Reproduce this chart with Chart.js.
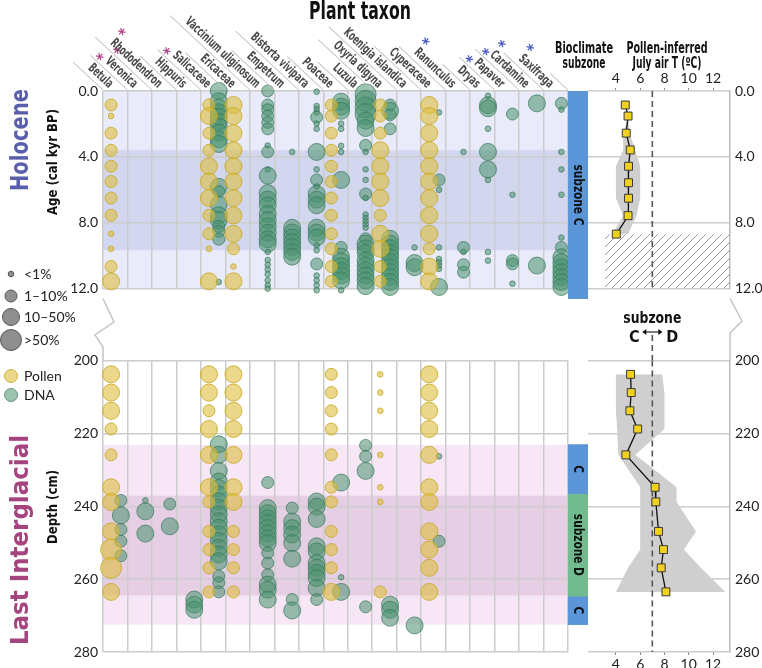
<!DOCTYPE html>
<html>
<head>
<meta charset="utf-8">
<script src="https://cdn.jsdelivr.net/npm/chart.js@4.4.0/dist/chart.umd.min.js"></script>
<style>
  html, body { margin: 0; padding: 0; background: #fff; }
  #wrap { position: relative; width: 762px; height: 668px; overflow: hidden; }
  canvas { position: absolute; }
</style>
</head>
<body>
<div id="wrap">
  <canvas id="holBubble" width="572" height="302" style="left:0;top:0"></canvas>
  <canvas id="ligBubble" width="572" height="406" style="left:0;top:262px"></canvas>
  <canvas id="holTemp" width="222" height="302" style="left:540px;top:0"></canvas>
  <canvas id="ligTemp" width="222" height="406" style="left:540px;top:262px"></canvas>
  <canvas id="holZone" width="20" height="208" style="left:568px;top:91px"></canvas>
  <canvas id="ligZone" width="20" height="292" style="left:568px;top:360px"></canvas>
</div>
<script>
// ---- data ----
const taxa = ['Betula', 'Veronica', 'Rhododendron', 'Hippuris', 'Salicaceae', 'Ericaceae',
  'Vaccinium uliginosum', 'Empetrum', 'Bistorta vivipara', 'Poaceae', 'Luzula', 'Oxyria digyna',
  'Koenigia islandica', 'Cyperaceae', 'Ranunculus', 'Dryas', 'Papaver', 'Cardamine', 'Saxifraga'];
const pinkStar = ['Betula', 'Veronica', 'Rhododendron', 'Hippuris'];
const blueStar = ['Ranunculus', 'Dryas', 'Papaver', 'Cardamine', 'Saxifraga'];
const sizeLabels = ['<1%', '1–10%', '10–50%', '>50%'];

const holAgeTicks = [0, 4, 8, 12];
const ligDepthTicks = [200, 220, 240, 260, 280];
const tempTicks = [4, 6, 8, 10, 12];

// Holocene: pollen samples (size class per sample, 0 = absent)
const holPollenAges = [0.85, 1.52, 2.56, 3.6, 4.57, 5.5, 6.5, 7.55, 8.67, 9.58, 10.66, 11.56];
const holPollen = [
  ['Betula',        [2, 1, 2, 2, 2, 2, 2, 2, 1, 1, 2, 3]],
  ['Salicaceae',    [2, 3, 2, 2, 3, 3, 3, 2, 2, 1, 0, 3]],
  ['Ericaceae',     [3, 3, 3, 3, 3, 3, 3, 3, 3, 2, 1, 3]],
  ['Poaceae',       [2, 2, 2, 2, 2, 2, 2, 2, 2, 2, 2, 2]],
  ['Oxyria digyna', [2, 2, 2, 3, 3, 3, 3, 2, 3, 3, 2, 2]],
  ['Cyperaceae',    [3, 3, 3, 3, 3, 3, 3, 3, 3, 2, 3, 3]]
];
// Holocene: sedaDNA detections [age, size class]
const holDNA = [
  ['Salicaceae', [[0, 3], [0.62, 3], [1.0, 3], [1.29, 3], [1.58, 3], [1.87, 3], [2.16, 3], [2.54, 3], [2.93, 3], [3.22, 3],
    [5.82, 3], [6.11, 2], [6.88, 3], [7.55, 3], [7.84, 3], [8.23, 2], [8.52, 2], [9.0, 2], [11.6, 1]]],
  ['Vaccinium uliginosum', [[0, 2], [0.85, 2], [1.14, 2], [1.52, 2], [1.91, 2], [2.3, 2], [3.31, 1], [3.7, 2], [4.76, 1],
    [5.14, 3], [6.2, 3], [6.59, 3], [6.94, 3], [7.46, 3], [7.84, 3], [8.23, 3], [8.61, 3], [9.0, 3], [9.28, 3],
    [9.77, 1], [10.26, 1], [10.55, 1], [10.84, 1], [11.13, 1], [11.5, 1], [11.8, 1], [12.0, 1]]],
  ['Empetrum', [[3.7, 1], [8.31, 3], [8.6, 3], [8.9, 3], [9.18, 3], [9.47, 3], [9.77, 3], [10.06, 3]]],
  ['Bistorta vivipara', [[0.04, 1], [0.91, 1], [1.1, 1], [1.3, 1], [1.59, 2], [1.98, 1], [2.3, 1], [3.7, 3], [4.76, 1],
    [5.4, 2], [5.8, 1], [6.25, 3], [6.6, 3], [6.94, 3], [8.3, 3], [8.6, 3], [8.9, 3], [9.38, 1], [9.67, 1],
    [10.5, 2], [11.2, 1], [11.5, 1], [11.8, 1], [12.1, 1]]],
  ['Poaceae', [[0.65, 3], [0.95, 3], [1.2, 3], [1.98, 1], [2.3, 1], [3.33, 1], [3.7, 1], [5.4, 3], [9.5, 2],
    [10.06, 3], [10.35, 3], [10.64, 3], [10.93, 3], [11.2, 3], [11.5, 3], [12.1, 1]]],
  ['Luzula', [[0.2, 4], [0.6, 4], [1.0, 4], [1.4, 4], [1.8, 3], [2.25, 3], [3.3, 2], [3.7, 1], [4.76, 1], [5.4, 1],
    [6.25, 2], [6.5, 1], [7.5, 1], [7.7, 1], [7.9, 1], [8.1, 1], [8.3, 1], [8.97, 2], [9.27, 3], [9.55, 3], [9.84, 3],
    [10.3, 3], [10.6, 3], [10.9, 3], [11.2, 3], [11.5, 3], [11.85, 3]]],
  ['Oxyria digyna', [[0.85, 2], [1.2, 3], [1.45, 2], [2.3, 2], [8.97, 3], [9.27, 3], [9.55, 3], [9.84, 3], [10.1, 3],
    [10.4, 3], [10.7, 3], [11.0, 3], [11.3, 3], [11.6, 3], [11.9, 3]]],
  ['Koenigia islandica', [[9.5, 1], [10.45, 3], [10.7, 3]]],
  ['Cyperaceae', [[1.3, 1], [5.4, 2], [6.0, 1], [9.5, 1], [10.2, 1], [10.4, 1], [10.6, 1], [10.8, 1], [11.9, 3]]],
  ['Ranunculus', [[3.7, 1], [9.5, 2], [9.77, 1], [10.55, 2], [11.0, 2]]],
  ['Dryas', [[0.29, 1], [0.86, 3], [1.05, 3], [2.29, 1], [3.7, 3], [4.76, 3], [5.4, 1], [9.77, 1], [10.3, 1]]],
  ['Papaver', [[1.4, 2], [6.3, 1], [10.3, 2], [10.5, 2], [11.7, 1]]],
  ['Cardamine', [[0.75, 3], [10.6, 3]]],
  ['Saxifraga', [[0.75, 2], [1.13, 1], [3.7, 1], [4.76, 1], [6.3, 1], [8.9, 1], [9.5, 2], [10.1, 3], [10.4, 3],
    [10.7, 3], [11.0, 3], [11.3, 3], [11.6, 3], [11.9, 3]]]
];
const holShade = [[0, 12], [3.6, 9.67]];
const holTempAges = [0.85, 1.52, 2.56, 3.58, 4.57, 5.57, 6.51, 7.57, 8.69];
const holTemp     = [4.77, 5.0, 4.85, 5.18, 5.04, 5.04, 5.04, 5.0, 4.03];
const holTempLow  = [4.77, 5.0, 4.6, 4.6, 4.0, 4.0, 4.0, 4.6, 3.7];
const holTempHigh = [4.77, 5.0, 5.1, 5.6, 6.0, 6.0, 6.0, 5.7, 5.0];
const holNoDataT = [3.1, 13.4];
const holNoDataAges = [8.7, 12];
const holZones = [[0, 12]];
const holZoneNames = ['subzone C'];
const holZoneKinds = ['C'];

// Last Interglacial
const ligPollenDepths = [203.8, 208.8, 213.8, 218.8, 225.9, 234.8, 238.8, 246.9, 251.9, 256.9, 263.5];
const ligPollen = [
  ['Betula',        [3, 3, 3, 2, 2, 3, 3, 3, 4, 4, 3]],
  ['Salicaceae',    [3, 3, 2, 3, 3, 3, 2, 2, 2, 2, 2]],
  ['Ericaceae',     [3, 3, 3, 3, 3, 3, 3, 2, 2, 2, 2]],
  ['Poaceae',       [2, 2, 2, 2, 2, 2, 2, 2, 2, 2, 3]],
  ['Oxyria digyna', [1, 1, 1, 0, 1, 1, 1, 0, 0, 0, 2]],
  ['Cyperaceae',    [3, 3, 3, 3, 3, 3, 3, 3, 3, 3, 3]]
];
const ligDNA = [
  ['Betula', [[238.4, 2], [242.5, 3], [246.4, 2], [249.6, 2], [253.6, 2]]],
  ['Veronica', [[238.4, 1], [241.4, 3], [247.5, 3]]],
  ['Rhododendron', [[239.4, 2], [245.5, 3]]],
  ['Hippuris', [[265.6, 3], [267.0, 3], [268.4, 3]]],
  ['Salicaceae', [[223.0, 3], [225.9, 3], [230.3, 3], [233.2, 3], [235.0, 3], [236.8, 3], [238.6, 3], [240.4, 3],
    [242.2, 3], [244.1, 3], [245.9, 3], [247.7, 3], [249.5, 3], [251.4, 3], [253.2, 3], [255.1, 3],
    [259.2, 2], [261.0, 2], [263.5, 2]]],
  ['Vaccinium uliginosum', [[233.5, 2], [240.5, 3], [241.9, 3], [243.3, 3], [244.6, 3], [246.0, 3], [247.4, 3],
    [248.8, 3], [250.1, 3], [252.8, 2], [255.6, 2], [258.8, 2], [261.5, 3], [262.9, 3], [265.6, 3]]],
  ['Empetrum', [[240.5, 2], [244.2, 3], [246.0, 3], [247.8, 3], [250.1, 3], [254.4, 3], [265.6, 2], [268.6, 3]]],
  ['Bistorta vivipara', [[238.7, 3], [240.1, 3], [243.5, 3], [251.0, 3], [252.4, 3], [255.6, 3], [256.9, 3],
    [258.3, 3], [259.7, 3], [262.4, 3], [265.6, 2]]],
  ['Poaceae', [[233.5, 3], [259.5, 1], [263.5, 3]]],
  ['Luzula', [[223.3, 2], [226.3, 2], [230.3, 3], [267.6, 2]]],
  ['Oxyria digyna', [[267.0, 3], [268.4, 3], [270.6, 3]]],
  ['Koenigia islandica', [[272.7, 3]]],
  ['Cyperaceae', [[226.3, 1], [249.6, 2]]]
];
const ligShade = [[223.2, 272.5], [237.1, 264.5]];
const ligTemp     = [5.21, 5.26, 5.15, 5.79, 4.82, 7.23, 7.29, 7.51, 7.92, 7.73, 8.12];
const ligTempLow  = [4.0, 4.0, 4.0, 4.1, 4.2, 6.0, 6.0, 6.0, 6.0, 5.0, 4.0];
const ligTempHigh = [7.8, 8.0, 8.0, 8.0, 5.6, 9.0, 9.0, 10.6, 9.6, 11.0, 13.0];
const ligZones = [[223.2, 236.6], [236.6, 264.7], [264.7, 272.5]];
const ligZoneNames = ['C', 'subzone D', 'C'];
const ligZoneKinds = ['C', 'D', 'C'];
const zoneThreshold = 7;

// ---- styles ----
const COND = '"Liberation Sans Narrow", "DejaVu Sans Condensed", "Arial Narrow", sans-serif';
const REG = 'Lato, "Noto Sans", sans-serif';
const RADII = [2.8, 6, 8.5, 10.5];
const POLLEN_FILL = 'rgba(222,190,60,0.6)', POLLEN_LINE = 'rgba(200,170,40,0.85)';
const DNA_FILL = 'rgba(72,145,110,0.55)', DNA_LINE = 'rgba(55,120,90,0.7)';
const ZONE_COLORS = { C: '#5b96d8', D: '#72bb8e' };
const GRID = '#cccccc';
const ANG = 43 * Math.PI / 180;

Chart.defaults.font.family = REG;
Chart.defaults.animation = false;

// ---- helpers ----
function pollenPoints(ages, rows) {
  const pts = [];
  rows.forEach(([name, classes]) => {
    const col = taxa.indexOf(name);
    classes.forEach((c, j) => { if (c) pts.push({ x: col + 0.33, y: ages[j], s: c }); });
  });
  return pts;
}
function dnaPoints(rows) {
  const pts = [];
  rows.forEach(([name, list]) => {
    const col = taxa.indexOf(name);
    list.forEach(([v, c]) => pts.push({ x: col + 0.73, y: v, s: c }));
  });
  return pts;
}

// draw text squeezed horizontally so that it is `width` px long
function fitText(ctx, text, x, y, font, width, align) {
  ctx.save();
  ctx.font = font;
  const w = ctx.measureText(text).width;
  ctx.translate(x, y);
  ctx.scale(width / w, 1);
  ctx.textAlign = align || 'center';
  ctx.fillText(text, 0, 0);
  ctx.restore();
}

const shadePlugin = {
  id: 'shade',
  beforeDraw(chart, args, opts) {
    const { ctx, chartArea: a, scales: { y } } = chart;
    ctx.save();
    opts.ranges.forEach((r, i) => {
      const y0 = y.getPixelForValue(r[0]), y1 = y.getPixelForValue(r[1]);
      ctx.fillStyle = opts.colors[i];
      ctx.fillRect(a.left, y0, a.right - a.left, y1 - y0);
    });
    ctx.restore();
  }
};

function bubbleChart(id, cfg) {
  return new Chart(document.getElementById(id), {
    type: 'bubble',
    data: {
      datasets: [
        { data: pollenPoints(cfg.pollenY, cfg.pollen), backgroundColor: POLLEN_FILL, borderColor: POLLEN_LINE, borderWidth: 1, clip: false },
        { data: dnaPoints(cfg.dna), backgroundColor: DNA_FILL, borderColor: DNA_LINE, borderWidth: 1, clip: false }
      ]
    },
    options: {
      responsive: false,
      events: [],
      layout: { padding: cfg.padding, autoPadding: false },
      elements: { point: { radius: ctx => RADII[(ctx.raw && ctx.raw.s ? ctx.raw.s : 1) - 1] } },
      scales: {
        x: {
          type: 'linear', min: 0, max: taxa.length, position: 'bottom',
          afterFit: s => { s.height = 0; },
          ticks: { display: false, stepSize: 1, maxTicksLimit: 40, autoSkip: false },
          grid: { color: GRID, lineWidth: 1.5, drawTicks: false },
          border: { display: false }
        },
        y: {
          type: 'linear', min: cfg.yMin, max: cfg.yMax, reverse: true,
          afterBuildTicks: s => { s.ticks = cfg.yTicks.map(v => ({ value: v })); },
          afterFit: s => { s.width = 103; },
          ticks: { font: { size: 14 }, color: '#222', padding: 5, callback: cfg.fmt },
          grid: { color: GRID, lineWidth: 1.5, drawTicks: false },
          border: { display: false }
        }
      },
      plugins: {
        legend: { display: false }, tooltip: { enabled: false },
        shade: { ranges: cfg.shade, colors: cfg.shadeColors }
      }
    },
    plugins: [shadePlugin, cfg.decor]
  });
}

function hatchPattern() {
  const c = document.createElement('canvas');
  c.width = 8; c.height = 8;
  const g = c.getContext('2d');
  g.strokeStyle = '#8c8c8c'; g.lineWidth = 0.9;
  g.beginPath();
  g.moveTo(0, 8); g.lineTo(8, 0);
  g.moveTo(-2, 2); g.lineTo(2, -2);
  g.moveTo(6, 10); g.lineTo(10, 6);
  g.stroke();
  return g.createPattern(c, 'repeat');
}

function tempChart(id, cfg) {
  const pts = (xs, ys) => xs.map((v, i) => ({ x: v, y: ys[i] }));
  const clear = 'rgba(0,0,0,0)';
  const datasets = [
    { data: pts(cfg.temp, cfg.depth), borderColor: '#111', borderWidth: 1.3, pointStyle: 'rect', pointRadius: 5.6,
      pointBackgroundColor: '#f1d11f', pointBorderColor: '#3a3a3a', pointBorderWidth: 1, order: 0 },
    { data: [{ x: zoneThreshold, y: cfg.yMin }, { x: zoneThreshold, y: cfg.yMax }], borderColor: '#555',
      borderDash: [6, 4], borderWidth: 1.6, pointRadius: 0, order: 1 },
    { data: pts(cfg.low, cfg.depth), borderColor: clear, borderWidth: 0, pointRadius: 0, order: 3 },
    { data: pts(cfg.high, cfg.depth), borderColor: clear, borderWidth: 0, pointRadius: 0, fill: '-1',
      backgroundColor: '#cfcfcf', order: 2 }
  ];
  if (cfg.hatchT) {
    datasets.push(
      { data: cfg.hatchY.map(v => ({ x: cfg.hatchT[0], y: v })), borderColor: clear, borderWidth: 0, pointRadius: 0, order: 5 },
      { data: cfg.hatchY.map(v => ({ x: cfg.hatchT[1], y: v })), borderColor: clear, borderWidth: 0, pointRadius: 0,
        fill: '-1', backgroundColor: hatchPattern(), order: 4 }
    );
  }
  return new Chart(document.getElementById(id), {
    type: 'line',
    data: { datasets },
    options: {
      responsive: false,
      events: [],
      indexAxis: 'y',
      layout: { padding: cfg.padding, autoPadding: false },
      scales: {
        x: {
          type: 'linear', position: cfg.xPos, min: 1.7, max: 13.4,
          afterBuildTicks: s => { s.ticks = tempTicks.map(v => ({ value: v })); },
          afterFit: s => { s.height = cfg.xHeight; },
          grid: { drawOnChartArea: false, drawTicks: true, tickLength: 3, color: '#888' },
          border: { display: false },
          ticks: { font: { size: 14 }, color: '#222', padding: 1, maxRotation: 0, autoSkip: false }
        },
        y: {
          type: 'linear', position: 'right', min: cfg.yMin, max: cfg.yMax, reverse: true,
          afterBuildTicks: s => { s.ticks = cfg.yTicks.map(v => ({ value: v })); },
          afterFit: s => { s.width = 32; },
          grid: { color: GRID, lineWidth: 1.5, drawTicks: false },
          border: { display: true, color: '#bbbbbb', width: 1.5 },
          ticks: { font: { size: 14 }, color: '#222', padding: 5, callback: cfg.fmt }
        }
      },
      plugins: { legend: { display: false }, tooltip: { enabled: false } }
    },
    plugins: cfg.decor ? [cfg.decor] : []
  });
}

const zoneLabelPlugin = {
  id: 'zoneLabels',
  afterDatasetsDraw(chart) {
    const { ctx } = chart;
    ctx.save();
    ctx.fillStyle = '#111';
    ctx.textBaseline = 'middle';
    chart.data.datasets.forEach((ds, i) => {
      const el = chart.getDatasetMeta(i).data[0];
      ctx.save();
      ctx.translate(el.x, (el.y + el.base) / 2);
      ctx.rotate(Math.PI / 2);
      ctx.font = 'bold 14px ' + COND;
      const w = ctx.measureText(ds.label).width * 0.84;
      fitText(ctx, ds.label, 0, 0, 'bold 14px ' + COND, w, 'center');
      ctx.restore();
    });
    ctx.restore();
  }
};

function zoneChart(id, bounds, names, kinds, yMin, yMax) {
  return new Chart(document.getElementById(id), {
    type: 'bar',
    data: {
      labels: [''],
      datasets: bounds.map((b, i) => ({ label: names[i], data: [b], backgroundColor: ZONE_COLORS[kinds[i]] }))
    },
    options: {
      responsive: false,
      events: [],
      layout: { padding: 0, autoPadding: false },
      datasets: { bar: { grouped: false, barPercentage: 1, categoryPercentage: 1, borderWidth: 0 } },
      scales: {
        x: { display: false },
        y: { display: false, min: yMin, max: yMax, reverse: true }
      },
      plugins: { legend: { display: false }, tooltip: { enabled: false } }
    },
    plugins: [zoneLabelPlugin]
  });
}

function vText(ctx, text, x, y, font, color, width) {
  ctx.save();
  ctx.translate(x, y);
  ctx.rotate(-Math.PI / 2);
  ctx.fillStyle = color;
  ctx.textBaseline = 'middle';
  fitText(ctx, text, 0, 0, font, width, 'center');
  ctx.restore();
}

// ---- decorations ----
const holDecor = {
  id: 'holDecor',
  afterDraw(chart) {
    const { ctx, chartArea: a, scales: { x } } = chart;
    ctx.save();
    ctx.fillStyle = '#111';
    ctx.textBaseline = 'middle';
    fitText(ctx, 'Plant taxon', 360, 13, 'bold 24px ' + COND, 102, 'center');

    const font = 'bold 13px ' + COND;
    ctx.font = font;
    const k = 97 / ctx.measureText('Vaccinium uliginosum').width;
    taxa.forEach((t, i) => {
      const x0 = x.getPixelForValue(i);
      ctx.font = font;
      const w = ctx.measureText(t).width * k;
      ctx.save();
      ctx.translate(x0, a.top - 1);
      ctx.rotate(ANG);
      ctx.strokeStyle = '#c4c4c4'; ctx.lineWidth = 1;
      ctx.beginPath(); ctx.moveTo(0, 0); ctx.lineTo(-(w + 12), 0); ctx.stroke();
      ctx.fillStyle = '#4a4a4a';
      ctx.textBaseline = 'alphabetic';
      fitText(ctx, t, 3, -5, font, w, 'right');
      const star = pinkStar.includes(t) ? '#b0468a' : blueStar.includes(t) ? '#4a5bc2' : null;
      if (star) {
        ctx.fillStyle = star;
        ctx.font = 'bold 16px ' + COND;
        ctx.textAlign = 'left';
        ctx.fillText('*', 3 - w - 3, -14);
      }
      ctx.restore();
    });
    const xe = x.getPixelForValue(taxa.length);
    ctx.save();
    ctx.translate(xe, a.top - 1); ctx.rotate(ANG);
    ctx.strokeStyle = '#c4c4c4'; ctx.beginPath(); ctx.moveTo(0, 0); ctx.lineTo(-24, 0); ctx.stroke();
    ctx.restore();

    vText(ctx, 'Holocene', 22, 140, 'bold 24px ' + COND, '#5a5fab', 102);
    vText(ctx, 'Age (cal kyr BP)', 53, 162, 'bold 14px ' + COND, '#111', 106);
    ctx.restore();
  }
};

const ligDecor = {
  id: 'ligDecor',
  afterDraw(chart) {
    const { ctx, chartArea: a } = chart;
    const off = 262;
    ctx.save();
    // size legend
    ctx.font = '14px ' + REG; ctx.textBaseline = 'middle'; ctx.textAlign = 'left';
    const rowsY = [274, 296, 317, 340];
    sizeLabels.forEach((lab, i) => {
      ctx.beginPath(); ctx.arc(11, rowsY[i] - off, RADII[i], 0, Math.PI * 2);
      ctx.fillStyle = 'rgba(115,115,115,0.8)'; ctx.fill();
      ctx.strokeStyle = '#555'; ctx.lineWidth = 1; ctx.stroke();
      ctx.fillStyle = '#222'; ctx.fillText(lab, 24, rowsY[i] - off);
    });
    [['Pollen', POLLEN_FILL, POLLEN_LINE, 376], ['DNA', DNA_FILL, DNA_LINE, 395]].forEach(([lab, f, l, yy]) => {
      ctx.beginPath(); ctx.arc(11, yy - off, 6.5, 0, Math.PI * 2);
      ctx.fillStyle = f; ctx.fill(); ctx.strokeStyle = l; ctx.stroke();
      ctx.fillStyle = '#222'; ctx.fillText(lab, 24, yy - off);
    });
    // broken axis mark
    ctx.strokeStyle = '#c4c4c4'; ctx.lineWidth = 1.5;
    ctx.beginPath();
    ctx.moveTo(a.left, 298.5 - off); ctx.lineTo(a.left + 11, 322 - off); ctx.lineTo(a.left - 8, 335 - off);
    ctx.lineTo(a.left, 347 - off); ctx.lineTo(a.left, a.top);
    ctx.stroke();

    vText(ctx, 'Last Interglacial', 22, 540 - off, 'bold 24px ' + COND, '#a4457f', 210);
    vText(ctx, 'Depth (cm)', 53, 507 - off, 'bold 14px ' + COND, '#111', 74);
    ctx.restore();
  }
};

const holTempDecor = {
  id: 'holTempDecor',
  afterDraw(chart) {
    const { ctx } = chart;
    ctx.save();
    ctx.fillStyle = '#111';
    ctx.textBaseline = 'middle';
    const f = 'bold 15px ' + COND;
    fitText(ctx, 'Bioclimate', 584 - 540, 49, f, 58, 'center');
    fitText(ctx, 'subzone', 584 - 540, 64, f, 43, 'center');
    fitText(ctx, 'Pollen-inferred', 667 - 540, 49, f, 81, 'center');
    fitText(ctx, 'July air T (ºC)', 667 - 540, 64, f, 69, 'center');
    ctx.restore();
  }
};

const ligTempDecor = {
  id: 'ligTempDecor',
  afterDraw(chart) {
    const { ctx, chartArea: a, scales: { x } } = chart;
    const off = 262;
    const xt = x.getPixelForValue(zoneThreshold);
    ctx.save();
    ctx.fillStyle = '#111'; ctx.font = 'bold 15px ' + COND;
    ctx.textAlign = 'center'; ctx.textBaseline = 'middle';
    fitText(ctx, 'subzone', xt, 319 - off, 'bold 16px ' + COND, 58, 'center');
    ctx.font = 'bold 16px ' + COND;
    ctx.fillText('C', xt - 18, 338 - off);
    ctx.fillText('D', xt + 20, 338 - off);
    // double arrow
    const ya = 332 - off;
    ctx.strokeStyle = '#111'; ctx.lineWidth = 1.1;
    ctx.beginPath(); ctx.moveTo(xt - 9, ya); ctx.lineTo(xt + 9, ya); ctx.stroke();
    ctx.beginPath();
    ctx.moveTo(xt - 10, ya); ctx.lineTo(xt - 6, ya - 3); ctx.lineTo(xt - 6, ya + 3); ctx.closePath();
    ctx.moveTo(xt + 10, ya); ctx.lineTo(xt + 6, ya - 3); ctx.lineTo(xt + 6, ya + 3); ctx.closePath();
    ctx.fill();
    ctx.strokeStyle = '#555'; ctx.setLineDash([6, 4]); ctx.lineWidth = 1.6;
    ctx.beginPath(); ctx.moveTo(xt, ya + 3); ctx.lineTo(xt, a.top); ctx.stroke();
    ctx.setLineDash([]);
    // broken axis mark
    ctx.strokeStyle = '#c4c4c4'; ctx.lineWidth = 1.5;
    ctx.beginPath();
    ctx.moveTo(a.right, 298.5 - off); ctx.lineTo(a.right + 12, 321 - off); ctx.lineTo(a.right, 333 - off);
    ctx.lineTo(a.right, a.top);
    ctx.stroke();
    ctx.restore();
  }
};

// ---- charts ----
bubbleChart('holBubble', {
  pollenY: holPollenAges, pollen: holPollen, dna: holDNA,
  yMin: 0, yMax: 12, yTicks: holAgeTicks, fmt: v => Number(v).toFixed(1),
  shade: holShade, shadeColors: ['#e9ebfa', '#d2d6ee'],
  padding: { top: 91, bottom: 3.5, left: 0, right: 4 },
  decor: holDecor
});
bubbleChart('ligBubble', {
  pollenY: ligPollenDepths, pollen: ligPollen, dna: ligDNA,
  yMin: 200, yMax: 280, yTicks: ligDepthTicks, fmt: v => String(v),
  shade: ligShade, shadeColors: ['#f6e6f6', '#e6cee4'],
  padding: { top: 98.5, bottom: 16, left: 0, right: 4 },
  decor: ligDecor
});
tempChart('holTemp', {
  temp: holTemp, low: holTempLow, high: holTempHigh, depth: holTempAges,
  hatchT: holNoDataT, hatchY: holNoDataAges,
  yMin: 0, yMax: 12, yTicks: holAgeTicks, fmt: v => Number(v).toFixed(1),
  xPos: 'top', xHeight: 20,
  padding: { top: 71, bottom: 3.5, left: 48, right: 0 },
  decor: holTempDecor
});
tempChart('ligTemp', {
  temp: ligTemp, low: ligTempLow, high: ligTempHigh, depth: ligPollenDepths,
  yMin: 200, yMax: 280, yTicks: ligDepthTicks, fmt: v => String(v),
  xPos: 'bottom', xHeight: 16,
  padding: { top: 98.5, bottom: 0, left: 48, right: 0 },
  decor: ligTempDecor
});
zoneChart('holZone', holZones, holZoneNames, holZoneKinds, 0, 12);
zoneChart('ligZone', ligZones, ligZoneNames, ligZoneKinds, 200, 280);
</script>
</body>
</html>
